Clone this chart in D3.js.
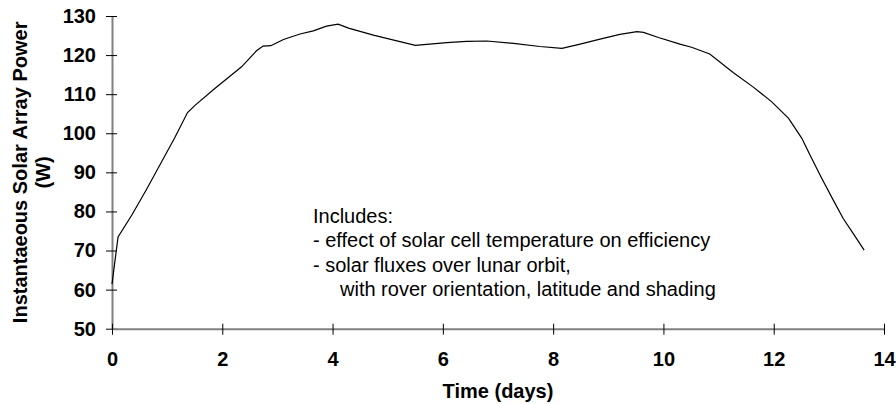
<!DOCTYPE html>
<html>
<head>
<meta charset="utf-8">
<script src="https://cdn.jsdelivr.net/npm/d3@7"></script>
<style>
  html, body { margin: 0; padding: 0; background: #fff; }
  svg { display: block; font-family: "Liberation Sans", Arial, sans-serif; }
</style>
</head>
<body>
<svg id="chart" width="896" height="404"></svg>
<script>
// Instantaneous solar array power over one lunar day
const days = [0, 0.11, 0.36, 0.62, 0.90, 1.14, 1.37, 1.51, 1.87, 2.35, 2.62, 2.74, 2.88,
  3.11, 3.41, 3.65, 3.89, 4.10, 4.29, 4.74, 5.50, 6.07, 6.43, 6.80, 7.28, 7.76, 8.16,
  8.49, 8.85, 9.21, 9.52, 9.64, 9.91, 10.30, 10.51, 10.84, 11.27, 11.63, 11.96, 12.27,
  12.51, 12.66, 12.87, 13.08, 13.26, 13.44, 13.64];
const power = [61.4, 73.5, 79.1, 85.5, 92.7, 98.9, 105.3, 107.2, 111.5, 117.0, 121.1, 122.3, 122.4,
  124.0, 125.4, 126.2, 127.4, 127.9, 126.9, 125.1, 122.5, 123.2, 123.5, 123.6, 123.0, 122.2, 121.7,
  122.8, 124.1, 125.3, 126.0, 125.8, 124.5, 122.8, 122.0, 120.3, 115.5, 111.8, 108.1, 103.8,
  98.7, 94.4, 88.5, 82.9, 78.2, 74.4, 70.1];

const xTicks = [0, 2, 4, 6, 8, 10, 12, 14];
const yTicks = [50, 60, 70, 80, 90, 100, 110, 120, 130];

const notes = [
  "Includes:",
  "- effect of solar cell temperature on efficiency",
  "- solar fluxes over lunar orbit,",
  "with rover orientation, latitude and shading"
];

const svg = d3.select("#chart");
const plotLeft = 112, plotRight = 884, plotTop = 16, plotBottom = 328.7;
const fontSize = 20;

const x = d3.scaleLinear().domain([0, 14]).range([plotLeft, plotRight]);
const y = d3.scaleLinear().domain([50, 130]).range([plotBottom, plotTop]);

// Y axis
const yAxis = svg.append("g")
  .attr("transform", `translate(${plotLeft},0)`)
  .call(d3.axisLeft(y).tickValues(yTicks).tickSize(0).tickPadding(16));
yAxis.select(".domain").attr("stroke", "#808080").attr("stroke-width", 2);
yAxis.selectAll(".tick").append("line")
  .attr("x1", -6).attr("x2", 5).attr("stroke", "#000").attr("stroke-width", 1);
yAxis.selectAll(".tick text")
  .attr("font-size", fontSize).attr("font-weight", "bold").attr("fill", "#000")
  .attr("font-family", "Liberation Sans, Arial, sans-serif");

// X axis
const xAxis = svg.append("g")
  .attr("transform", `translate(0,${plotBottom})`)
  .call(d3.axisBottom(x).tickValues(xTicks).tickSize(0).tickPadding(23));
xAxis.select(".domain").attr("stroke", "#808080").attr("stroke-width", 2);
xAxis.selectAll(".tick").append("line")
  .attr("y1", -5).attr("y2", 6).attr("stroke", "#000").attr("stroke-width", 1);
xAxis.selectAll(".tick text")
  .attr("font-size", fontSize).attr("font-weight", "bold").attr("fill", "#000")
  .attr("font-family", "Liberation Sans, Arial, sans-serif");

// Power curve
svg.append("path")
  .datum(days.map((d, i) => [d, power[i]]))
  .attr("fill", "none")
  .attr("stroke", "#000")
  .attr("stroke-width", 1.2)
  .attr("d", d3.line().x(d => x(d[0])).y(d => y(d[1])));

// Axis titles
svg.append("text")
  .attr("x", (plotLeft + plotRight) / 2).attr("y", 398)
  .attr("text-anchor", "middle")
  .attr("font-size", fontSize).attr("font-weight", "bold")
  .text("Time (days)");

const yTitle = svg.append("text")
  .attr("transform", `translate(27,${(plotTop + plotBottom) / 2}) rotate(-90)`)
  .attr("text-anchor", "middle")
  .attr("font-size", fontSize).attr("font-weight", "bold");
yTitle.append("tspan").attr("x", 0).attr("y", 0).text("Instantaeous Solar Array Power");
yTitle.append("tspan").attr("x", 0).attr("y", 23).text("(W)");

// Annotation block
const noteX = [313, 313, 313, 340];
svg.append("g").selectAll("text")
  .data(notes)
  .join("text")
  .attr("x", (d, i) => noteX[i])
  .attr("y", (d, i) => 223 + i * 24.3)
  .attr("font-size", fontSize)
  .attr("fill", "#000")
  .text(d => d);
</script>
</body>
</html>
